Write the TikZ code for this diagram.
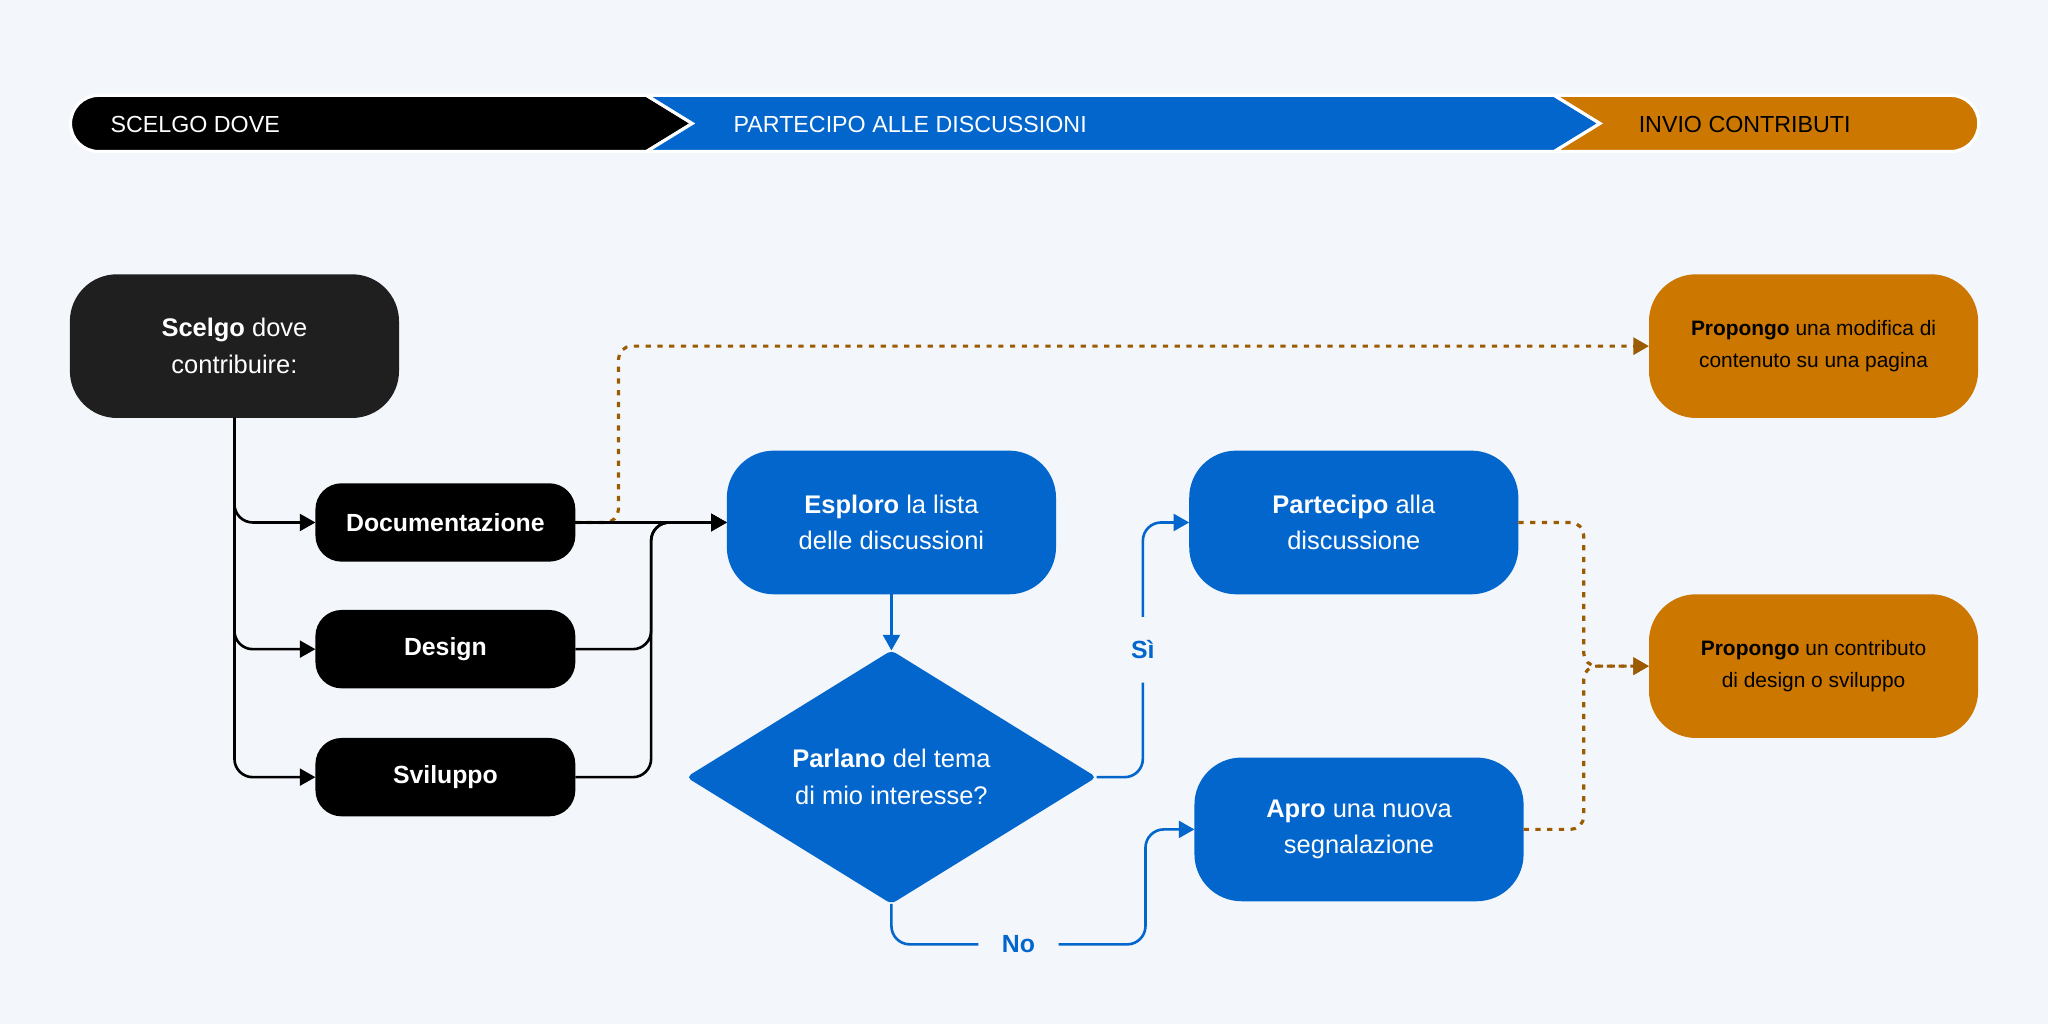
\documentclass[tikz,border=0pt]{standalone}
\usepackage{fontspec}
\setmainfont{Liberation Sans}
\usetikzlibrary{calc, positioning, shapes.geometric, arrows.meta}

\definecolor{bg}{HTML}{F3F7FB}
\definecolor{dsblue}{HTML}{0366CC}
\definecolor{dsorange}{HTML}{CC7700}
\definecolor{dsbrown}{HTML}{9C5B00}
\definecolor{dsdark}{HTML}{1F1F1F}

\begin{document}
\begin{tikzpicture}[x=0.5pt, y=-0.5pt, every node/.style={outer sep=0pt},
    big/.style={rounded corners=18pt, minimum width=126pt, minimum height=55pt, align=center, text=white, font=\fontsize{9.75}{14}\selectfont},
    small/.style={rounded corners=10pt, minimum width=99.5pt, minimum height=30pt, fill=black, text=white, font=\bfseries\fontsize{9.5}{12}\selectfont},
    goal/.style={big, fill=dsorange, text=black, font=\fontsize{8}{12}\selectfont},
    band/.style={draw=white, line width=1.2pt},
    bandtext/.style={anchor=west, font=\fontsize{8.9}{10}\selectfont},
    tip/.style={-{Triangle[length=6pt,width=6.5pt]}},
    line/.style={tip, line width=1pt, rounded corners=7pt},
    bline/.style={line, draw=dsblue, fill=none},
    dots/.style={line, draw=dsbrown, line width=1.2pt, dash pattern=on 2pt off 2.5pt, rounded corners=5pt},
    lbl/.style={fill=bg, text=dsblue, inner xsep=9pt, inner ysep=9pt, font=\bfseries\fontsize{9.5}{10}\selectfont}]

    \fill[bg] (0,0) rectangle (1568,784);
    \useasboundingbox (0,0) rectangle (1568,784);

    \filldraw[band, fill=black] (495,73) -- (75.5,73) arc[start angle=90, end angle=270, radius=10.75pt] -- (495,116) -- (530,94.5) -- cycle;
    \filldraw[band, fill=dsblue] (495,73) -- (1190,73) -- (1225,94.5) -- (1190,116) -- (495,116) -- (530,94.5) -- cycle;
    \filldraw[band, fill=dsorange] (1190,73) -- (1493.5,73) arc[start angle=90, end angle=-90, radius=10.75pt] -- (1190,116) -- (1225,94.5) -- cycle;

    \node[bandtext, text=white] (1) at (78,95) {SCELGO DOVE};
    \node[bandtext, text=white] (2) at (555,95) {PARTECIPO ALLE DISCUSSIONI};
    \node[bandtext, text=black] (3) at (1248,95) {INVIO CONTRIBUTI};

    \node[big, fill=dsdark] (11) at (179.5,265) {\textbf{Scelgo} dove\\contribuire:};
    \node[small] (12) [below right=25pt and -32pt of 11] {Documentazione};
    \node[small] (13) [below=18.5pt of 12] {Design};
    \node[small] (14) [below=19pt of 13] {Sviluppo};

    \node[big, fill=dsblue] (21) [right=58pt of 12] {\textbf{Esploro} la lista\\delle discussioni};
    \node[diamond, aspect=1.63, minimum width=157pt, minimum height=97pt, inner sep=0pt, rounded corners=2pt,
          fill=dsblue, text=white, align=center, font=\fontsize{9.75}{14}\selectfont] (22) [below=21.5pt of 21] {\textbf{Parlano} del tema\\di mio interesse?};
    \node[big, fill=dsblue] (23) [right=51pt of 21] {\textbf{Partecipo} alla\\discussione};
    \node[big, fill=dsblue] (24) [below=62.5pt of 23, xshift=2pt] {\textbf{Apro} una nuova\\segnalazione};

    \node[goal] (31) [right=478.5pt of 11] {\textbf{Propongo} una modifica di\\contenuto su una pagina};
    \node[goal] (32) [below=67.5pt of 31] {\textbf{Propongo} un contributo\\di design o sviluppo};

    \coordinate (d) at ([xshift=16.5pt]12.east);
    \coordinate (j) at ($(12.east)!.5!(21.west)$);
    \coordinate (s) at ($(22.east)!.5!(23.west)$);
    \coordinate (n) at ([yshift=-15.5pt]22.south);
    \coordinate (v) at ($(22.east)!.5!(24.west)$);
    \coordinate (c) at ($(23.east)!.5!(32.west)$);

    \draw[line] (11.south) |- (12.west);
    \draw[line] (11.south) |- (13.west);
    \draw[line] (11.south) |- (14.west);

    \draw[dots] (12.east) -| (d |- 31.west) -- (31.west);
    \draw[line] (12.east) -- (21.west);
    \draw[line] (13.east) -| (j) -- (21.west);
    \draw[line] (14.east) -| (j) -- (21.west);

    \draw[bline] (21) -- (22);
    \draw[bline] (22.east) -| (s) node[lbl] {Sì} |- (23.west);
    \draw[bline] (22.south) -- (n) -- node[lbl] {No} (n -| v) |- (24.west);

    \draw[dots] (23.east) -| (c |- 32.west) -- (32.west);
    \draw[dots] (24.east) -| (c |- 32.west) -- (32.west);
\end{tikzpicture}
\end{document}
